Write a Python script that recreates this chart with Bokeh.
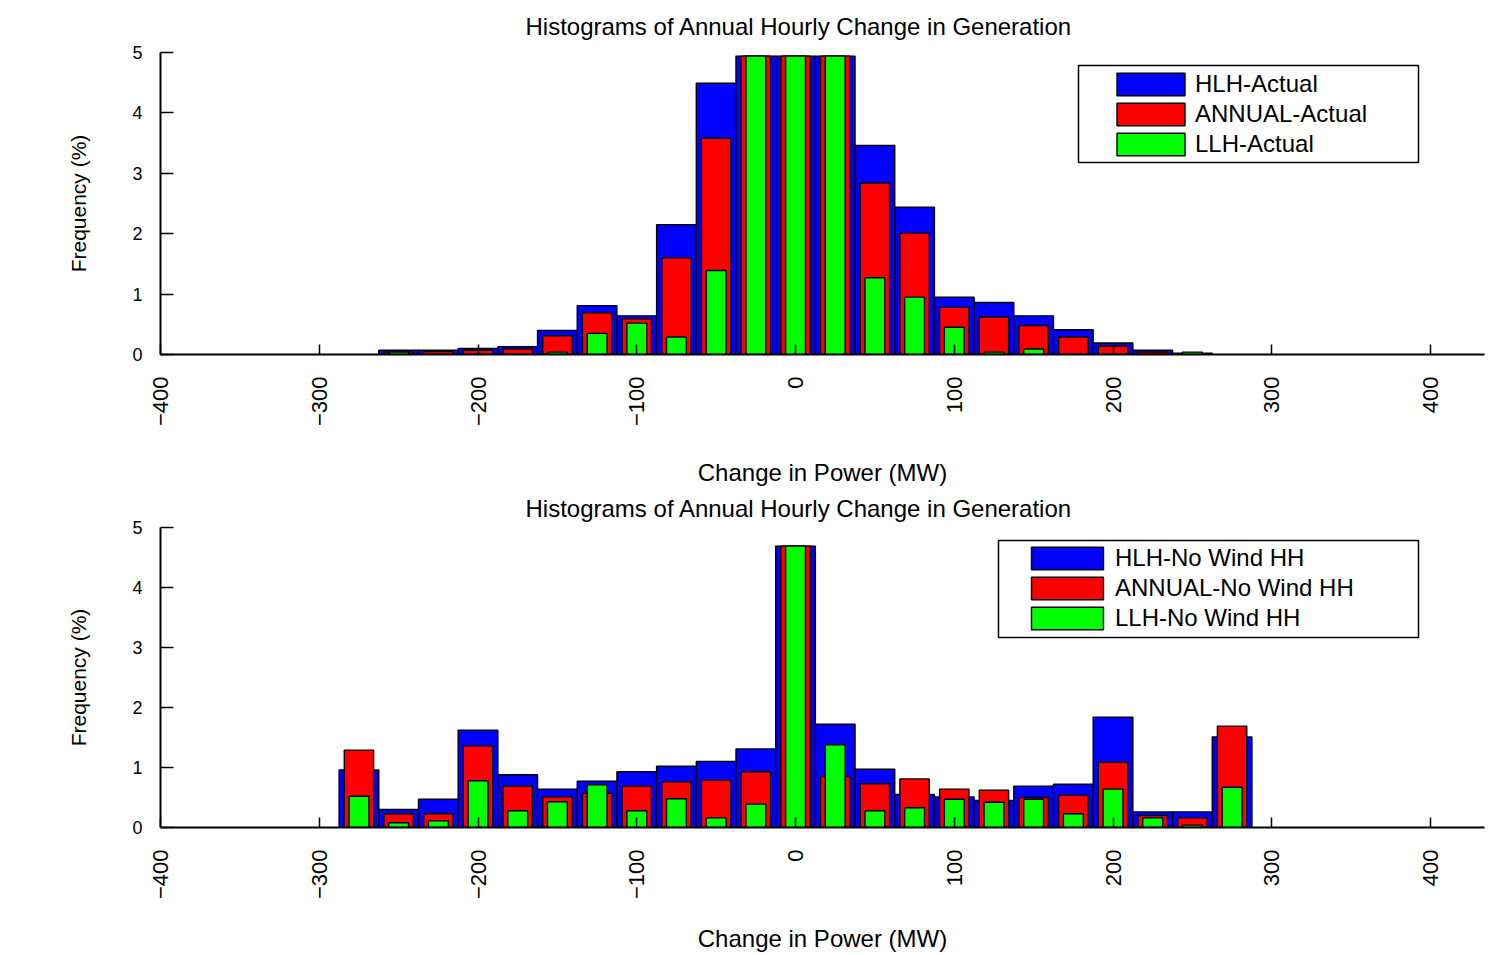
import math
from bokeh.plotting import figure
from bokeh.models import Range1d, FixedTicker, Legend, LegendItem, BoxAnnotation
from bokeh.layouts import column
from bokeh.embed import file_html
from bokeh.resources import INLINE

FONT = "Liberation Sans"

# ---------------- data ----------------
title_text = "Histograms of Annual Hourly Change in Generation"
x_label = "Change in Power (MW)"
y_label = "Frequency (%)"
x_ticks = [-400, -300, -200, -100, 0, 100, 200, 300, 400]
y_ticks = [0, 1, 2, 3, 4, 5]

# top panel (Actual) - bin centres in MW
top_bins = [-250, -225, -200, -175, -150, -125, -100, -75, -50, -25, 0,
            25, 50, 75, 100, 125, 150, 175, 200, 225, 250]
top_hlh = [0.07, 0.07, 0.10, 0.13, 0.40, 0.81, 0.64, 2.15, 4.49, 4.94, 4.94,
           4.94, 3.46, 2.44, 0.95, 0.86, 0.64, 0.41, 0.19, 0.07, 0.02]
top_annual = [0.04, 0.05, 0.07, 0.09, 0.31, 0.69, 0.59, 1.60, 3.58, 4.94, 4.94,
              4.94, 2.84, 2.01, 0.78, 0.62, 0.48, 0.29, 0.14, 0.04, 0.01]
top_llh = [0.04, 0.0, 0.0, 0.0, 0.04, 0.35, 0.52, 0.29, 1.39, 4.94, 4.94,
           4.94, 1.27, 0.95, 0.45, 0.04, 0.09, 0.0, 0.0, 0.0, 0.04]
top_labels = ["HLH-Actual", "ANNUAL-Actual", "LLH-Actual"]

# bottom panel (No Wind HH)
bot_bins = [-275, -250, -225, -200, -175, -150, -125, -100, -75, -50, -25, 0,
            25, 50, 75, 100, 125, 150, 175, 200, 225, 250, 275]
bot_hlh = [0.96, 0.30, 0.47, 1.62, 0.88, 0.64, 0.77, 0.93, 1.02, 1.10, 1.31, 4.69,
           1.72, 0.97, 0.55, 0.51, 0.45, 0.69, 0.72, 1.84, 0.26, 0.26, 1.51]
bot_annual = [1.29, 0.23, 0.23, 1.36, 0.69, 0.51, 0.57, 0.69, 0.76, 0.79, 0.93, 4.69,
              0.85, 0.73, 0.81, 0.64, 0.62, 0.50, 0.54, 1.09, 0.20, 0.16, 1.69]
bot_llh = [0.52, 0.08, 0.11, 0.78, 0.28, 0.43, 0.71, 0.28, 0.48, 0.16, 0.39, 4.69,
           1.38, 0.28, 0.33, 0.47, 0.42, 0.47, 0.23, 0.64, 0.16, 0.04, 0.67]
bot_labels = ["HLH-No Wind HH", "ANNUAL-No Wind HH", "LLH-No Wind HH"]

COLORS = ["#0000FF", "#FF0000", "#00FF00"]
BAR_WIDTHS = [25, 18.5, 12.5]


def make_panel(bins, series, labels, height, border_top, border_bottom,
               title_standoff, xlabel_standoff, legend_xy, glyph_w,
               lbl_standoff, box):
    p = figure(width=1500, height=height,
               x_range=Range1d(-400, 434), y_range=Range1d(0, 5),
               output_backend="svg", toolbar_location=None,
               min_border_left=160, min_border_right=16,
               min_border_top=border_top, min_border_bottom=border_bottom)
    p.title.text = title_text
    p.title.align = "left"
    p.title.offset = 365
    p.title.vertical_align = "top"
    p.title.standoff = title_standoff
    p.title.text_font = FONT
    p.title.text_font_size = "24px"
    p.title.text_font_style = "normal"
    p.title.text_color = "black"

    p.grid.visible = False
    p.outline_line_color = None
    p.background_fill_color = "white"
    p.border_fill_color = "white"

    items = []
    for vals, color, w, lab in zip(series, COLORS, BAR_WIDTHS, labels):
        r = p.vbar(x=bins, top=vals, bottom=0, width=w,
                   fill_color=color, line_color="black", line_width=1.4)
        items.append(LegendItem(label=lab, renderers=[r]))

    xa = p.xaxis[0]
    xa.ticker = FixedTicker(ticks=x_ticks)
    xa.major_label_orientation = math.pi / 2
    xa.major_label_text_font = FONT
    xa.major_label_text_font_size = "22px"
    xa.major_label_text_color = "black"
    xa.major_label_standoff = 22
    xa.major_tick_in = 10
    xa.major_tick_out = 0
    xa.minor_tick_in = 0
    xa.minor_tick_out = 0
    xa.major_tick_line_width = 1.5
    xa.axis_line_width = 2
    xa.axis_line_color = "black"
    xa.major_tick_line_color = "black"
    xa.axis_label = x_label
    xa.axis_label_standoff = xlabel_standoff
    xa.axis_label_text_font = FONT
    xa.axis_label_text_font_size = "24px"
    xa.axis_label_text_font_style = "normal"
    xa.axis_label_text_color = "black"

    ya = p.yaxis[0]
    ya.ticker = FixedTicker(ticks=y_ticks)
    ya.major_label_text_font = FONT
    ya.major_label_text_font_size = "18px"
    ya.major_label_text_color = "black"
    ya.major_label_standoff = 18
    ya.major_tick_in = 13
    ya.major_tick_out = 0
    ya.minor_tick_in = 0
    ya.minor_tick_out = 0
    ya.major_tick_line_width = 1.5
    ya.axis_line_width = 2
    ya.axis_line_color = "black"
    ya.major_tick_line_color = "black"
    ya.axis_label = y_label
    ya.axis_label_standoff = 39
    ya.axis_label_text_font = FONT
    ya.axis_label_text_font_size = "21px"
    ya.axis_label_text_font_style = "normal"
    ya.axis_label_text_color = "black"

    # legend frame (canvas pixels: left, right, top, bottom)
    bl, br, bt, bb = box
    frame_box = BoxAnnotation(left=bl, right=br, top=bt, bottom=bb,
                              left_units="canvas", right_units="canvas",
                              top_units="canvas", bottom_units="canvas",
                              fill_color="white", fill_alpha=1.0,
                              line_color="black", line_width=1.5,
                              line_alpha=1.0)
    p.add_layout(frame_box)

    legend = Legend(items=items, location=legend_xy, margin=0,
                    padding=4, spacing=2,
                    glyph_width=glyph_w, glyph_height=28,
                    label_standoff=lbl_standoff, label_width=20,
                    label_text_font=FONT, label_text_font_size="24px",
                    label_text_color="black",
                    border_line_color=None,
                    background_fill_alpha=0.0)
    p.add_layout(legend)
    return p


p1 = make_panel(top_bins, [top_hlh, top_annual, top_llh], top_labels,
                height=489, border_top=52, border_bottom=135,
                title_standoff=22, xlabel_standoff=30,
                legend_xy=(948, 196), glyph_w=85, lbl_standoff=2,
                box=(1078, 1418, 65, 162))
p2 = make_panel(bot_bins, [bot_hlh, bot_annual, bot_llh], bot_labels,
                height=466, border_top=38, border_bottom=128,
                title_standoff=8, xlabel_standoff=23,
                legend_xy=(862, 195), glyph_w=90, lbl_standoff=3,
                box=(998, 1418, 51, 148))

layout = column(p1, p2, spacing=0)
open("out.html", "w").write(file_html(layout, INLINE))
